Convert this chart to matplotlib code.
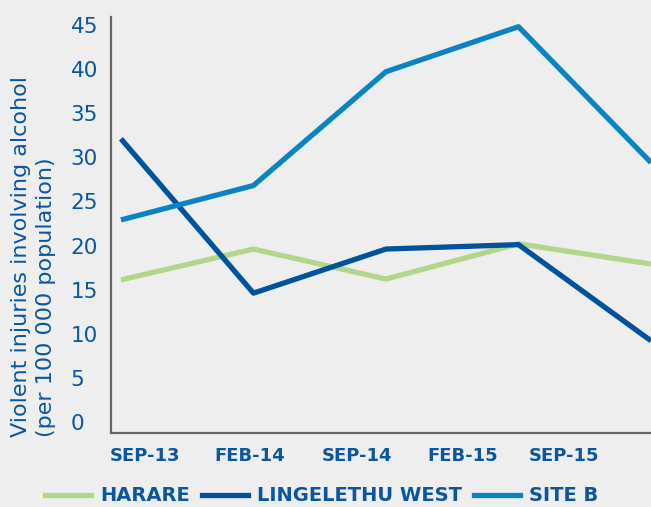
import numpy as np
import matplotlib.pyplot as plt
from matplotlib.lines import Line2D

# data
periods = ["SEP-13", "FEB-14", "SEP-14", "FEB-15", "SEP-15"]
harare = [16.1, 19.6, 16.2, 20.2, 17.9]
lingelethu = [32.1, 14.6, 19.6, 20.1, 9.2]
site_b = [22.9, 26.8, 39.7, 44.8, 29.4]
yticks = [0, 5, 10, 15, 20, 25, 30, 35, 40, 45]
# label positions on the x axis (they sit a bit off the data points)
label_pos = [0.18, 0.97, 1.78, 2.58, 3.34]

BG = "#eeeeee"
TEXT = "#0a56a0"
C_HARARE = "#b4d68a"
C_LING = "#00529b"
C_SITEB = "#0a83c4"

plt.rcParams['font.family'] = ['DejaVu Sans']

fig = plt.figure(figsize=(6.51, 5.07), dpi=100, facecolor=BG)
ax = fig.add_axes([111 / 651, 1 - 433 / 507, 1 - 111 / 651, (433 - 17) / 507])
ax.set_facecolor(BG)

x = np.arange(len(periods))
lw = 3.8
ax.plot(x, harare, color=C_HARARE, lw=lw, solid_joinstyle='round', solid_capstyle='butt')
ax.plot(x, lingelethu, color=C_LING, lw=lw, solid_joinstyle='round', solid_capstyle='butt')
ax.plot(x, site_b, color=C_SITEB, lw=lw, solid_joinstyle='round', solid_capstyle='butt')

ax.set_xlim(-0.075, 4.0)
ax.set_ylim(-1.25, 45.9)

for s in ['top', 'right']:
    ax.spines[s].set_visible(False)
for s in ['left', 'bottom']:
    ax.spines[s].set_color('#666666')
    ax.spines[s].set_linewidth(1.6)

ax.set_yticks(yticks)
ax.set_yticklabels([str(v) for v in yticks], color=TEXT, fontsize=15.5, ha='left')
ax.tick_params(axis='y', length=0, pad=29)

ax.set_xticks(label_pos)
ax.set_xticklabels(periods, color=TEXT, fontsize=13, fontweight='bold')
ax.tick_params(axis='x', length=0, pad=10)

fig.text(21 / 651, 1 - 437 / 507, "Violent injuries involving alcohol", rotation=90,
         color=TEXT, fontsize=16, ha='center', va='bottom')
fig.text(46 / 651, 1 - 437 / 507, "(per 100 000 population)", rotation=90,
         color=TEXT, fontsize=16, ha='center', va='bottom')

handles = [Line2D([], [], color=C_HARARE, lw=lw),
           Line2D([], [], color=C_LING, lw=lw),
           Line2D([], [], color=C_SITEB, lw=lw)]
fig.legend(handles, ["HARARE", "LINGELETHU WEST", "SITE B"], loc='center',
           bbox_to_anchor=(0.494, 0.022), ncol=3, frameon=False,
           prop={'size': 14, 'weight': 'bold'}, labelcolor=TEXT,
           handlelength=2.4, handletextpad=0.45, columnspacing=0.6)

fig.savefig("out.png", dpi=100, facecolor=BG)
